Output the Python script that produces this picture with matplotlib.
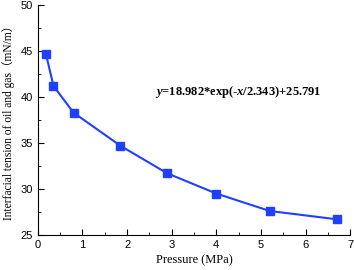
import matplotlib
matplotlib.use('Agg')
import matplotlib.pyplot as plt
from matplotlib.ticker import MultipleLocator

pressure = [0.18, 0.35, 0.8, 1.85, 2.9, 4.0, 5.2, 6.7]
tension = [44.7, 41.2, 38.3, 34.7, 31.7, 29.5, 27.6, 26.7]

plt.rcParams['font.family'] = ['Liberation Serif', 'Noto Sans CJK SC']
plt.rcParams['mathtext.fontset'] = 'custom'
plt.rcParams['mathtext.it'] = 'Liberation Serif:bold:italic'
plt.rcParams['mathtext.rm'] = 'Liberation Serif:bold'

fig = plt.figure(figsize=(3.54, 2.7), dpi=100)
ax = fig.add_axes([0.107, 0.13, 0.882, 0.851])

ax.plot(pressure, tension, color='#2040ff', lw=1.5, marker='s', ms=6)

ax.set_xlim(0, 7)
ax.set_ylim(25, 50)
ax.xaxis.set_major_locator(MultipleLocator(1))
ax.xaxis.set_minor_locator(MultipleLocator(0.5))
ax.yaxis.set_major_locator(MultipleLocator(5))
ax.yaxis.set_minor_locator(MultipleLocator(2.5))
ax.tick_params(which='both', direction='in', labelsize=8)
ax.tick_params(which='major', length=4)
ax.tick_params(which='minor', length=2)
for lab in ax.get_xticklabels() + ax.get_yticklabels():
    lab.set_family('Liberation Sans')
for s in ['top', 'right']:
    ax.spines[s].set_visible(False)

ax.set_xlabel('Pressure (MPa)', fontsize=9, labelpad=3)
ax.set_ylabel('Interfacial tension of oil and gas（mN/m）', fontsize=8.3, labelpad=4)

ax.text(2.62, 40.5, r'$y$=18.982*exp(-$x$/2.343)+25.791',
        fontsize=9, fontweight='bold', va='center', ha='left')

fig.savefig('out.png', dpi=100)
